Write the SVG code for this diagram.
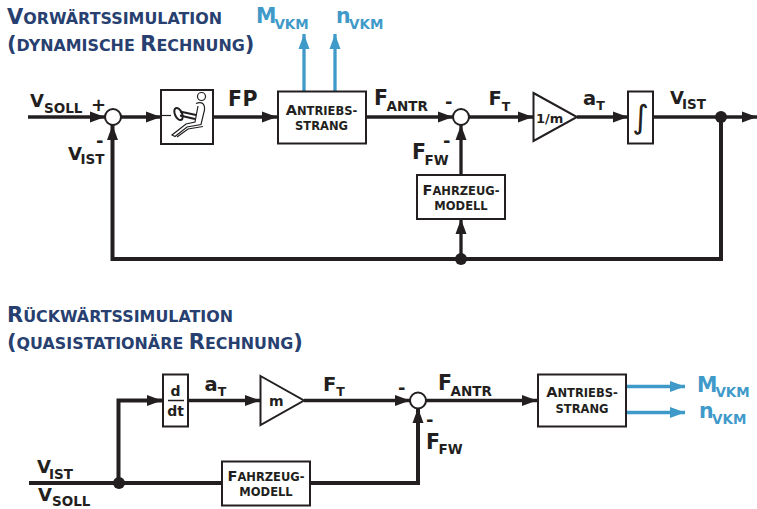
<svg xmlns="http://www.w3.org/2000/svg" width="757" height="509" viewBox="0 0 757 509">
<style>
text{font-family:"DejaVu Sans","Liberation Sans",sans-serif;font-weight:700;fill:#231f20}
.t{font-size:21px;fill:#27406f}.t tspan{font-size:15.9px}
.l{font-size:20.5px}.l tspan{font-size:13.5px}
.s{font-size:19.5px}.s tspan{font-size:12.5px}
.v{font-size:18px}.v tspan{font-size:13.5px}
.b{font-size:14.5px;text-anchor:middle}.b tspan{font-size:11.5px}
.c{fill:#3f9ac9!important}
.box{fill:#fff;stroke:#231f20;stroke-width:2}
.k{fill:none;stroke:#231f20;stroke-width:3.300}
.u{fill:none;stroke:#3f9ac9;stroke-width:3.300}
</style>
<defs>
<marker id="a" markerUnits="userSpaceOnUse" markerWidth="16" markerHeight="12" refX="15" refY="6" orient="auto"><path d="M0 .5L15 6L0 11.500z" fill="#231f20"/></marker>
<marker id="ab" markerUnits="userSpaceOnUse" markerWidth="16" markerHeight="12" refX="15" refY="6" orient="auto"><path d="M0 .5L15 6L0 11.500z" fill="#3f9ac9"/></marker>
</defs>
<g id="titles">
<text class="t" x="7" y="24">V<tspan>ORWÄRTSSIMULATION</tspan></text>
<text class="t" x="7" y="51">(<tspan>DYNAMISCHE </tspan>R<tspan>ECHNUNG</tspan>)</text>
<text class="t" x="7" y="322">R<tspan>ÜCKWÄRTSSIMULATION</tspan></text>
<text class="t" x="7" y="349">(<tspan>QUASISTATIONÄRE </tspan>R<tspan>ECHNUNG</tspan>)</text>
</g>
<g id="connectors">
<path class="k" d="M28 117H105" marker-end="url(#a)"/>
<path class="k" d="M121 117H161" marker-end="url(#a)"/>
<path class="k" d="M213 117H277" marker-end="url(#a)"/>
<path class="k" d="M366 117H453" marker-end="url(#a)"/>
<path class="k" d="M469 117H533" marker-end="url(#a)"/>
<path class="k" d="M577 117H628" marker-end="url(#a)"/>
<path class="k" d="M653 117H757" marker-end="url(#a)"/>
<path class="k" style="stroke-width:4" d="M723 259H112.500V125" marker-end="url(#a)"/>
<path class="k" style="stroke-width:4" d="M721 117V259"/>
<path class="k" d="M461 175V125" marker-end="url(#a)"/>
<path class="k" d="M461 259V219" marker-end="url(#a)"/>
<path class="u" d="M304 91V34" marker-end="url(#ab)"/>
<path class="u" d="M335 91V34" marker-end="url(#ab)"/>
<path class="k" style="stroke-width:4" d="M29 483H222"/>
<path class="k" style="stroke-width:4" d="M118.500 483V400.500H162" marker-end="url(#a)"/>
<path class="k" d="M188 400.500H260" marker-end="url(#a)"/>
<path class="k" d="M304 400.500H410" marker-end="url(#a)"/>
<path class="k" style="stroke-width:4" d="M310 483H418V408" marker-end="url(#a)"/>
<path class="k" d="M426 400.500H537" marker-end="url(#a)"/>
<path class="u" d="M627 386.500H685" marker-end="url(#ab)"/>
<path class="u" d="M627 412.500H685" marker-end="url(#ab)"/>
</g>
<g id="sum1"><circle cx="113" cy="117" r="8" class="box"/></g>
<g id="sum2"><circle cx="461" cy="117" r="8" class="box"/></g>
<g id="sum3"><circle cx="418" cy="400.500" r="8" class="box"/></g>
<g id="junctions" fill="#231f20">
<circle cx="721" cy="117" r="6"/><circle cx="461" cy="259" r="6"/><circle cx="119" cy="483" r="6"/>
</g>
<g id="driver">
<rect class="box" x="161" y="90" width="52" height="54"/>
<g fill="none" stroke="#231f20" stroke-width="1.200">
<circle cx="201.500" cy="96.500" r="4"/>
<path d="M161 115.500H171"/>
<ellipse cx="178.500" cy="114" rx="3.500" ry="6.500" transform="rotate(-25 178.500 114)" stroke-width="2"/>
<path d="M180 111.500L196 115M180 115.500L195 119" stroke-width="2"/>
<path d="M196 103.500C202 101 205 104 204.500 110L201 124.500L187 127L175 136.500L172 135L186 124L195 122L198 106"/>
<path d="M177 137L188 129L203 126.500"/>
</g>
</g>
<g id="antrieb1">
<rect class="box" x="278" y="91.500" width="88" height="52"/>
<text class="b" x="321.500" y="115">A<tspan>NTRIEBS-</tspan></text>
<text class="b" x="321.500" y="130"><tspan>STRANG</tspan></text>
</g>
<g id="fahrzeug1">
<rect class="box" x="417" y="175" width="88" height="44"/>
<text class="b" x="461" y="195">F<tspan>AHRZEUG-</tspan></text>
<text class="b" x="461" y="210"><tspan>MODELL</tspan></text>
</g>
<g id="gain1">
<path class="box" d="M533.500 93L577 117L533.500 141z"/>
<text x="536" y="123" style="font-size:13px">1/m</text>
</g>
<g id="integrator">
<rect class="box" x="628" y="91.500" width="25" height="52"/>
<text x="640.500" y="128" style="font-size:32px;font-weight:400;text-anchor:middle">∫</text>
</g>
<g id="ddt">
<rect class="box" x="163" y="374.500" width="25" height="52"/>
<text x="175.500" y="396" style="font-size:14px;text-anchor:middle">d</text>
<path d="M168 400.500H184" stroke="#231f20" stroke-width="1.500"/>
<text x="175.500" y="416" style="font-size:14px;text-anchor:middle">dt</text>
</g>
<g id="gain2">
<path class="box" d="M260.500 376L304 400.500L260.500 425z"/>
<text x="269" y="406" style="font-size:14px">m</text>
</g>
<g id="fahrzeug2">
<rect class="box" x="222" y="461.500" width="88" height="44"/>
<text class="b" x="266" y="481">F<tspan>AHRZEUG-</tspan></text>
<text class="b" x="266" y="496"><tspan>MODELL</tspan></text>
</g>
<g id="antrieb2">
<rect class="box" x="538" y="374.500" width="88" height="52"/>
<text class="b" x="582" y="397">A<tspan>NTRIEBS-</tspan></text>
<text class="b" x="582" y="413"><tspan>STRANG</tspan></text>
</g>
<g id="labels">
<text class="v" x="30" y="107">V<tspan dy="6">SOLL</tspan></text>
<text class="v" x="91" y="111">+</text>
<text class="v" x="96" y="147">-</text>
<text class="v" x="68" y="160">V<tspan dy="4" dx="-1.500">IST</tspan></text>
<text class="l" x="228" y="106" style="letter-spacing:.4px">FP</text>
<text class="l" x="374" y="105">F<tspan dy="5.500" dx="-1.500">ANTR</tspan></text>
<text class="v" x="445" y="108">-</text>
<text class="s" x="488.500" y="105">F<tspan dy="5.500">T</tspan></text>
<text class="v" x="443" y="147">-</text>
<text class="l" x="412" y="159">F<tspan dy="6" dx="-1.500">FW</tspan></text>
<text class="s" x="583" y="104.500">a<tspan dy="5.500">T</tspan></text>
<text class="v" x="670" y="104">V<tspan dy="4.500" dx="-2">IST</tspan></text>
<text class="l c" x="256" y="23">M<tspan dy="6" dx="-2">VKM</tspan></text>
<text class="l c" x="336" y="23">n<tspan dy="6" dx="-1.500">VKM</tspan></text>
<text class="v" x="37" y="473">V<tspan dy="6" dx="-2">IST</tspan></text>
<text class="v" x="38" y="501">V<tspan dy="4.500">SOLL</tspan></text>
<text class="s" x="204.500" y="391">a<tspan dy="5">T</tspan></text>
<text class="s" x="323" y="391">F<tspan dy="5">T</tspan></text>
<text class="v" x="398" y="394">-</text>
<text class="l" x="438" y="390">F<tspan dy="6" dx="-1.500">ANTR</tspan></text>
<text class="v" x="426" y="426">-</text>
<text class="l" x="426" y="449">F<tspan dy="5" dx="-1.500">FW</tspan></text>
<text class="l c" x="697" y="392">M<tspan dy="5" dx="-2">VKM</tspan></text>
<text class="l c" x="699" y="418">n<tspan dy="6" dx="-1.500">VKM</tspan></text>
</g>
</svg>
